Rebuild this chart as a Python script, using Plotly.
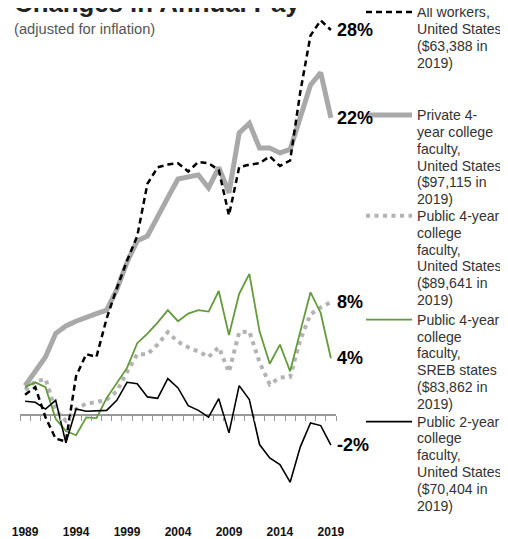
import plotly.graph_objects as go

# ---------------- data ----------------
years = list(range(1989, 2020))
tick_years = [1989, 1994, 1999, 2004, 2009, 2014, 2019]

all_workers = [1.45, 2.0, -0.2, -1.75, -1.95, 2.8, 4.4, 4.2, 7.0, 9.2, 11.2, 13.0,
               16.8, 18.0, 18.2, 18.3, 17.7, 18.4, 18.3, 17.8, 14.5, 18.0, 18.2,
               18.3, 18.8, 18.1, 18.5, 23.5, 27.6, 28.7, 28.0]
private_4yr = [2.1, 3.1, 4.2, 5.9, 6.45, 6.8, 7.1, 7.35, 7.6, 9.1, 11.1, 12.65,
               13.0, 14.5, 15.8, 17.15, 17.3, 17.45, 16.5, 18.0, 16.15, 20.5, 21.2,
               19.4, 19.4, 19.05, 19.3, 21.7, 24.0, 24.9, 21.6]
public_4yr_us = [1.8, 2.4, 2.6, 0.3, -0.45, 0.4, 0.8, 0.9, 1.1, 1.7, 3.1, 4.4,
                 4.4, 5.1, 6.0, 5.3, 4.9, 4.6, 4.2, 4.9, 3.1, 6.0, 6.05, 3.8,
                 2.2, 2.7, 2.75, 5.45, 7.3, 7.8, 8.2]
public_4yr_sreb = [2.0, 2.35, 2.0, -0.3, -1.2, -1.5, -0.2, -0.25, 1.2, 2.3, 3.4,
                   5.2, 5.9, 6.7, 7.6, 6.8, 7.35, 7.6, 7.5, 9.0, 5.8, 8.8, 10.25,
                   6.06, 3.7, 5.1, 3.15, 6.06, 8.9, 7.4, 4.1]
public_2yr_us = [0.97, 0.9, 0.4, 1.04, -2.06, 0.41, 0.24, 0.29, 0.31, 1.04, 2.35,
                 2.25, 1.29, 1.19, 2.62, 1.94, 0.65, 0.31, -0.19, 1.16, -1.33, 2.11,
                 1.09, -2.18, -3.15, -3.64, -4.92, -2.35, -0.61, -0.8, -2.23]

label_all = ["All workers,", "United States", "($63,388 in", "2019)"]
label_private = ["Private 4-", "year college", "faculty,", "United States", "($97,115 in", "2019)"]
label_pub_us = ["Public 4-year", "college", "faculty,", "United States", "($89,641 in", "2019)"]
label_sreb = ["Public 4-year", "college", "faculty,", "SREB states", "($83,862 in", "2019)"]
label_2yr = ["Public 2-year", "college", "faculty,", "United States", "($70,404 in", "2019)"]

title_text = "Changes in Annual Pay"
subtitle_text = "(adjusted for inflation)"

# ---------------- layout geometry ----------------
# the page body adds an 8px margin, so the figure is sized to fit the window
W, H = 500, 531
PLOT_L, PLOT_R = 12, 328
PLOT_T, PLOT_B = 0, 515.5
ZERO_PX = 407
PX_PER_UNIT = 13.75
y_max = (ZERO_PX - PLOT_T) / PX_PER_UNIT
y_min = -(PLOT_B - ZERO_PX) / PX_PER_UNIT


def py(p):
    return (PLOT_B - p) / (PLOT_B - PLOT_T)


def px(p):
    return (p - PLOT_L) / (PLOT_R - PLOT_L)


GRAY_THICK = "#a9a9a9"
GRAY_DOT = "#b3b3b3"
GREEN = "#649a3c"
TEXT = "#333333"
SANS = "Liberation Sans, Arial, sans-serif"
NARROW = "Liberation Sans Narrow, Arial Narrow, Liberation Sans, sans-serif"

series = [
    # values, label lines, color, width, dash, legend first-line px, x axis
    (private_4yr, label_private, GRAY_THICK, 5, "solid", 107, "x"),
    (public_4yr_us, label_pub_us, GRAY_DOT, 4, "4px,4.5px", 208, "x"),
    (public_4yr_sreb, label_sreb, GREEN, 1.8, "solid", 312, "x"),
    (public_2yr_us, label_2yr, "#000000", 1.6, "solid", 414, "x"),
    (all_workers, label_all, "#000000", 2.5, "6px,4px", 4, "x2"),
]

fig = go.Figure()
annotations = []
shapes = []

for vals, lines, color, width, dash, ly, xa in series:
    fig.add_trace(go.Scatter(
        x=years, y=vals, mode="lines", name=" ".join(lines), xaxis=xa, yaxis="y",
        line=dict(color=color, width=width, dash=dash),
        showlegend=False, hoverinfo="skip",
    ))
    # legend sample
    shapes.append(dict(type="line", xref="paper", yref="paper",
                       x0=px(358), x1=px(404), y0=py(ly), y1=py(ly),
                       line=dict(color=color, width=width, dash=dash)))
    for j, t in enumerate(lines):
        annotations.append(dict(
            xref="paper", yref="paper", x=px(406.5), y=py(ly + j * 16.9),
            xanchor="left", yanchor="middle", text=t, showarrow=False,
            font=dict(family=SANS, size=14.1, color=TEXT),
        ))

# end-value labels
for vals in [all_workers, private_4yr, public_4yr_us, public_4yr_sreb, public_2yr_us]:
    annotations.append(dict(
        x=years[-1], y=vals[-1], xref="x", yref="y", xanchor="left", yanchor="middle",
        xshift=4, text=f"{round(vals[-1])}%", showarrow=False,
        font=dict(family=SANS, size=18, color="#000000", weight="bold"),
    ))

# title and subtitle
annotations.append(dict(
    xref="paper", yref="paper", x=px(4), y=py(-5.5), xanchor="left", yanchor="middle",
    text=f"<b>{title_text}</b>", showarrow=False,
    font=dict(family=NARROW, size=25.8, color="#222222"),
))
annotations.append(dict(
    xref="paper", yref="paper", x=px(4), y=py(21), xanchor="left", yanchor="middle",
    text=subtitle_text, showarrow=False,
    font=dict(family=SANS, size=14.7, color="#555555"),
))

zero_pos = (0 - y_min) / (y_max - y_min)

fig.update_layout(
    width=W, height=H,
    margin=dict(l=PLOT_L, r=W - PLOT_R, t=PLOT_T, b=H - PLOT_B, autoexpand=False),
    paper_bgcolor="white", plot_bgcolor="white",
    showlegend=False,
    xaxis=dict(
        range=[years[0] - 0.5, years[-1] + 0.5], tickmode="array", tickvals=tick_years,
        ticktext=[str(y) for y in tick_years], ticks="", showline=False, showgrid=False,
        zeroline=False, automargin=False,
        tickfont=dict(family=SANS, size=12, color="#111111", weight="bold"),
    ),
    xaxis2=dict(
        overlaying="x", matches="x", anchor="free", position=zero_pos,
        range=[years[0] - 0.5, years[-1] + 0.5], tickmode="linear",
        tick0=years[0] - 0.5, dtick=1, ticks="outside", ticklen=5, tickwidth=1,
        tickcolor="#999999", showticklabels=False, showline=False, showgrid=False,
        zeroline=False, automargin=False,
    ),
    yaxis=dict(
        range=[y_min, y_max], visible=True, showticklabels=False, ticks="",
        showgrid=False, showline=False, zeroline=True, zerolinecolor="#999999",
        zerolinewidth=1.5, automargin=False,
    ),
    annotations=annotations,
    shapes=shapes,
)

fig.write_html("out.html")
